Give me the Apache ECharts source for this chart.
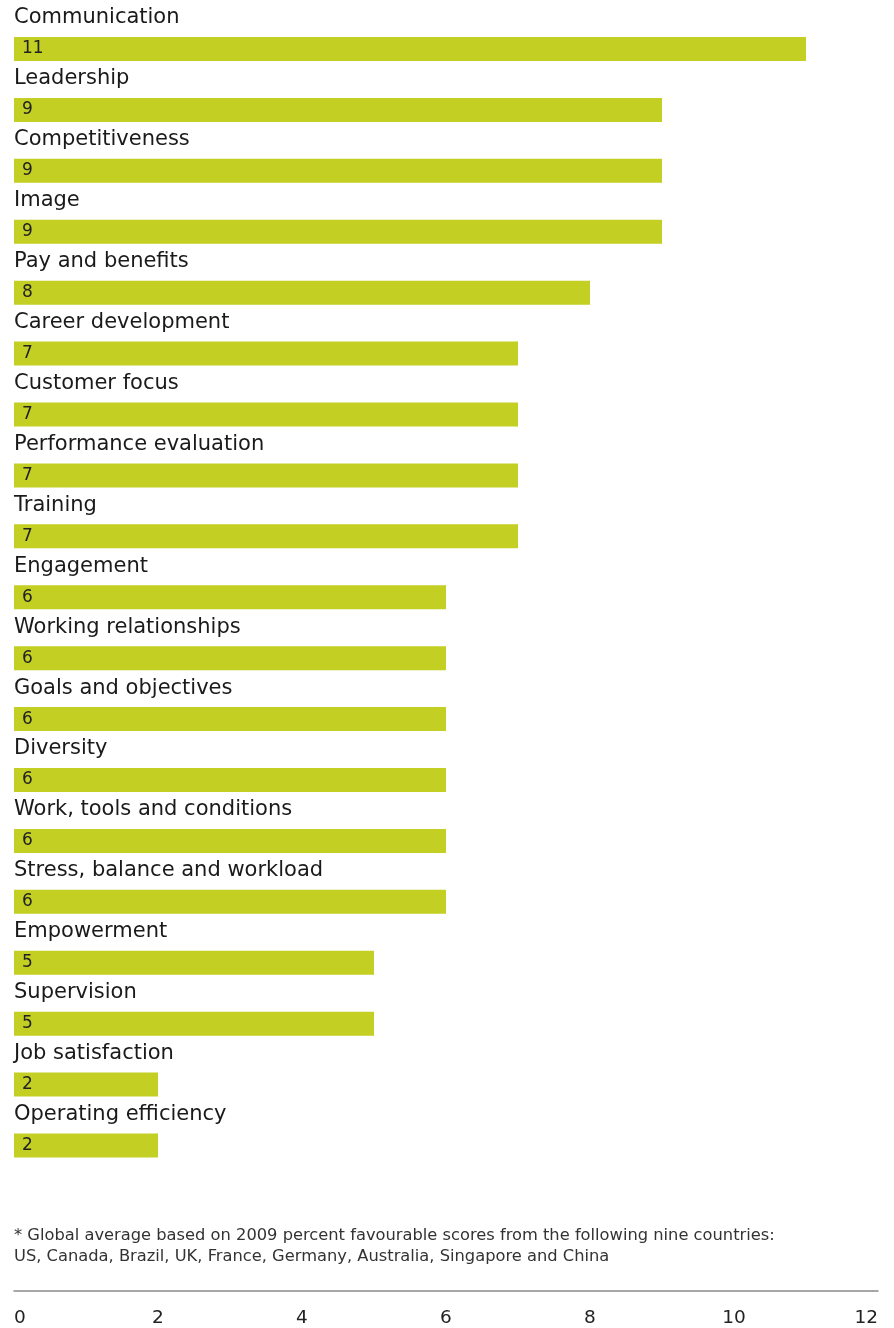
<!DOCTYPE html>
<html>
<head>
<meta charset="utf-8">
<script src="https://cdn.jsdelivr.net/npm/echarts@6/dist/echarts.min.js"></script>
<style>
  html, body { margin: 0; padding: 0; background: #fff; }
  #chart { width: 894px; height: 1328px; }
</style>
</head>
<body>
<div id="chart"></div>
<script>
const categories = [
  'Communication', 'Leadership', 'Competitiveness', 'Image', 'Pay and benefits',
  'Career development', 'Customer focus', 'Performance evaluation', 'Training',
  'Engagement', 'Working relationships', 'Goals and objectives', 'Diversity',
  'Work, tools and conditions', 'Stress, balance and workload', 'Empowerment',
  'Supervision', 'Job satisfaction', 'Operating efficiency'
];
const values = [11, 9, 9, 9, 8, 7, 7, 7, 7, 6, 6, 6, 6, 6, 6, 5, 5, 2, 2];
const xTicks = [0, 2, 4, 6, 8, 10, 12];
const footnote = [
  '* Global average based on 2009 percent favourable scores from the following nine countries:',
  'US, Canada, Brazil, UK, France, Germany, Australia, Singapore and China'
];

const font = '"DejaVu Sans", sans-serif';
const chart = echarts.init(document.getElementById('chart'));

chart.setOption({
  animation: false,
  textStyle: { fontFamily: font },
  grid: { left: 14, right: 16, top: 18.5, height: 1158 },
  xAxis: {
    type: 'value',
    min: xTicks[0],
    max: xTicks[xTicks.length - 1],
    interval: 2,
    offset: 115,
    splitLine: { show: false },
    axisTick: { show: false },
    axisLine: { show: true, lineStyle: { color: '#8a8a8a', width: 1.5 } },
    axisLabel: {
      color: '#222', fontSize: 18.5, margin: 18,
      alignMinLabel: 'left', alignMaxLabel: 'right'
    }
  },
  yAxis: {
    type: 'category',
    inverse: true,
    data: categories,
    axisLine: { show: false },
    axisTick: { show: false },
    axisLabel: {
      inside: true,
      margin: 0,
      align: 'left',
      verticalAlign: 'bottom',
      color: '#1a1a1a',
      fontSize: 21,
      lineHeight: 24,
      padding: [0, 0, 19, 0]
    }
  },
  series: [{
    type: 'bar',
    data: values,
    barWidth: 24,
    itemStyle: { color: '#c3cf22' },
    label: {
      show: true,
      position: 'insideLeft',
      distance: 8,
      color: '#222',
      fontSize: 17
    }
  }],
  graphic: footnote.map((line, i) => ({
    type: 'text',
    left: 14,
    top: 1228 + i * 21,
    style: { text: line, fontSize: 16.3, fill: '#333', fontFamily: font }
  }))
});
</script>
</body>
</html>
